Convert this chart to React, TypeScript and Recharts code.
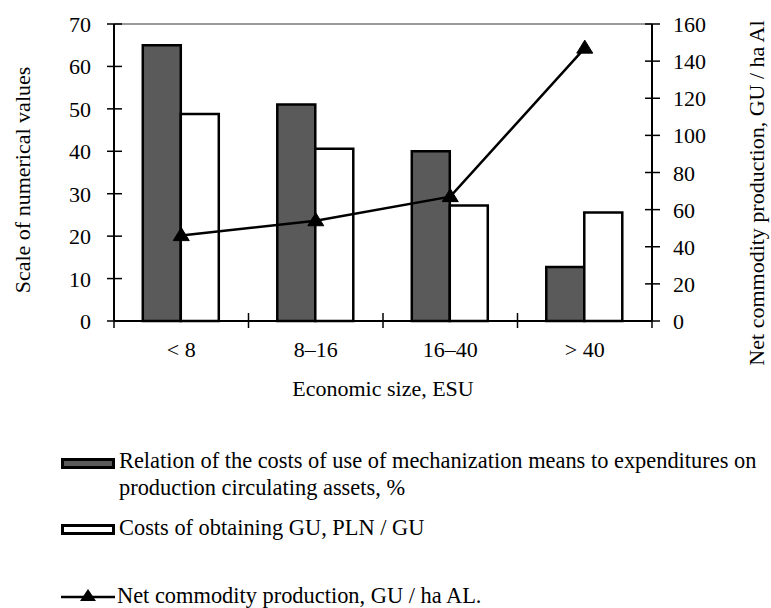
import React from 'react';
import {
  ComposedChart, Bar, Line, XAxis, YAxis, ReferenceLine, Legend,
} from 'recharts';

const categories = ['< 8', '8–16', '16–40', '> 40'];
const mechanizationShare = [65, 51, 40, 12.7];
const costsPerGU = [48.8, 40.6, 27.2, 25.6];
const netProduction = [46, 54, 67, 147];
const leftTicks = [0, 10, 20, 30, 40, 50, 60, 70];
const rightTicks = [0, 20, 40, 60, 80, 100, 120, 140, 160];

const seriesNames = [
  'Relation of the costs of use of mechanization means to expenditures on\nproduction circulating assets, %',
  'Costs of obtaining GU, PLN / GU',
  'Net commodity production, GU / ha AL.',
];

const data = categories.map((c, i) => ({
  name: c,
  mech: mechanizationShare[i],
  cost: costsPerGU[i],
  net: netProduction[i],
}));

const FONT = "'Liberation Serif', 'Times New Roman', serif";
const FS = 22;

const LeftTick = (props: any) => {
  const { x, y, payload } = props;
  return (
    <g>
      <line x1={x - 7} x2={x + 8} y1={y} y2={y} stroke="#000" strokeWidth={1.5} />
      <text x={x - 23} y={y} dy={8} textAnchor="end" fontFamily={FONT} fontSize={FS} fill="#000">
        {payload.value}
      </text>
    </g>
  );
};

const RightTick = (props: any) => {
  const { x, y, payload } = props;
  return (
    <g>
      <line x1={x - 7} x2={x + 8} y1={y} y2={y} stroke="#000" strokeWidth={1.5} />
      <text x={x + 21} y={y} dy={8} textAnchor="start" fontFamily={FONT} fontSize={FS} fill="#000">
        {payload.value}
      </text>
    </g>
  );
};

const BottomTick = (props: any) => {
  const { x, y, payload, index } = props;
  const off = payload && payload.offset ? payload.offset : 67.25;
  return (
    <g>
      <line x1={x - off} x2={x - off} y1={y - 8} y2={y + 7} stroke="#000" strokeWidth={1.5} />
      {index === categories.length - 1 && (
        <line x1={x + off} x2={x + off} y1={y - 8} y2={y + 7} stroke="#000" strokeWidth={1.5} />
      )}
      <text x={x} y={y + 36} textAnchor="middle" fontFamily={FONT} fontSize={FS} fill="#000">
        {payload.value}
      </text>
    </g>
  );
};

const Triangle = (props: any) => {
  const { cx, cy } = props;
  if (cx == null || cy == null) return null;
  return (
    <path
      d={`M${cx},${cy - 8} L${cx + 8},${cy + 5} L${cx - 8},${cy + 5} Z`}
      fill="#000"
      stroke="#000"
      strokeWidth={1}
    />
  );
};

const textStyle: React.CSSProperties = {
  position: 'absolute',
  fontFamily: FONT,
  fontSize: 22.4,
  lineHeight: '27px',
  color: '#000',
  whiteSpace: 'pre',
};

const renderLegend = () => (
  <div style={{ position: 'relative', width: 771, height: 160 }}>
    <div style={{ position: 'absolute', left: 61, top: 8, width: 48, height: 5, border: '3px solid #000', background: '#5a5a5a' }} />
    <div style={{ ...textStyle, left: 119, top: -3 }}>{seriesNames[0]}</div>
    <div style={{ position: 'absolute', left: 61, top: 74, width: 48, height: 5, border: '3px solid #000', background: '#fff' }} />
    <div style={{ ...textStyle, left: 119, top: 64 }}>{seriesNames[1]}</div>
    <svg style={{ position: 'absolute', left: 58, top: 138 }} width={60} height={20}>
      <line x1={3} x2={57} y1={9} y2={9} stroke="#000" strokeWidth={2.5} />
      <path d="M30,1 L38,13 L22,13 Z" fill="#000" />
    </svg>
    <div style={{ ...textStyle, left: 117, top: 132 }}>{seriesNames[2]}</div>
  </div>
);

export default function App() {
  return (
    <div style={{ position: 'absolute', left: 0, top: 0, width: 771, height: 608, background: '#fff' }}>
      <ComposedChart
        width={771}
        height={608}
        data={data}
        margin={{ top: 24, right: 0, bottom: 207, left: 0 }}
        barCategoryGap="21.4%"
        barGap={0}
      >
        <XAxis
          dataKey="name"
          xAxisId="x"
          height={80}
          axisLine={{ stroke: '#000', strokeWidth: 2 }}
          tickLine={false}
          tickSize={0}
          tickMargin={0}
          tick={<BottomTick />}
          interval={0}
          label={() => (
            <text x={383} y={396} textAnchor="middle" fontFamily={FONT} fontSize={FS} fill="#000">
              Economic size, ESU
            </text>
          )}
        />
        <YAxis
          yAxisId="left"
          orientation="left"
          width={114}
          domain={[0, 70]}
          ticks={leftTicks}
          interval={0}
          axisLine={{ stroke: '#000', strokeWidth: 2 }}
          tickLine={false}
          tickSize={0}
          tickMargin={0}
          tick={<LeftTick />}
          label={() => (
            <text
              x={30}
              y={180}
              transform="rotate(-90 30 180)"
              textAnchor="middle"
              fontFamily={FONT}
              fontSize={FS}
              fill="#000"
            >
              Scale of numerical values
            </text>
          )}
        />
        <YAxis
          yAxisId="right"
          orientation="right"
          width={119}
          domain={[0, 160]}
          ticks={rightTicks}
          interval={0}
          axisLine={{ stroke: '#000', strokeWidth: 2 }}
          tickLine={false}
          tickSize={0}
          tickMargin={0}
          tick={<RightTick />}
          label={() => (
            <text
              x={764}
              y={193}
              transform="rotate(-90 764 193)"
              textAnchor="middle"
              fontFamily={FONT}
              fontSize={FS}
              fill="#000"
            >
              Net commodity production, GU / ha Al
            </text>
          )}
        />
        <ReferenceLine yAxisId="left" xAxisId="x" y={70} stroke="#9a9a9a" strokeWidth={2} />
        <Bar
          xAxisId="x"
          yAxisId="left"
          dataKey="mech"
          name={seriesNames[0]}
          fill="#5a5a5a"
          stroke="#000"
          strokeWidth={2.5}
          isAnimationActive={false}
        />
        <Bar
          xAxisId="x"
          yAxisId="left"
          dataKey="cost"
          name={seriesNames[1]}
          fill="#fff"
          stroke="#000"
          strokeWidth={2.5}
          isAnimationActive={false}
        />
        <Line
          xAxisId="x"
          yAxisId="right"
          dataKey="net"
          name={seriesNames[2]}
          type="linear"
          stroke="#000"
          strokeWidth={2.5}
          dot={<Triangle />}
          activeDot={false}
          isAnimationActive={false}
        />
        <Legend
          layout="horizontal"
          verticalAlign="middle"
          content={renderLegend}
          wrapperStyle={{ position: 'absolute', left: 0, top: 450, width: 771, height: 160 }}
        />
      </ComposedChart>
    </div>
  );
}
